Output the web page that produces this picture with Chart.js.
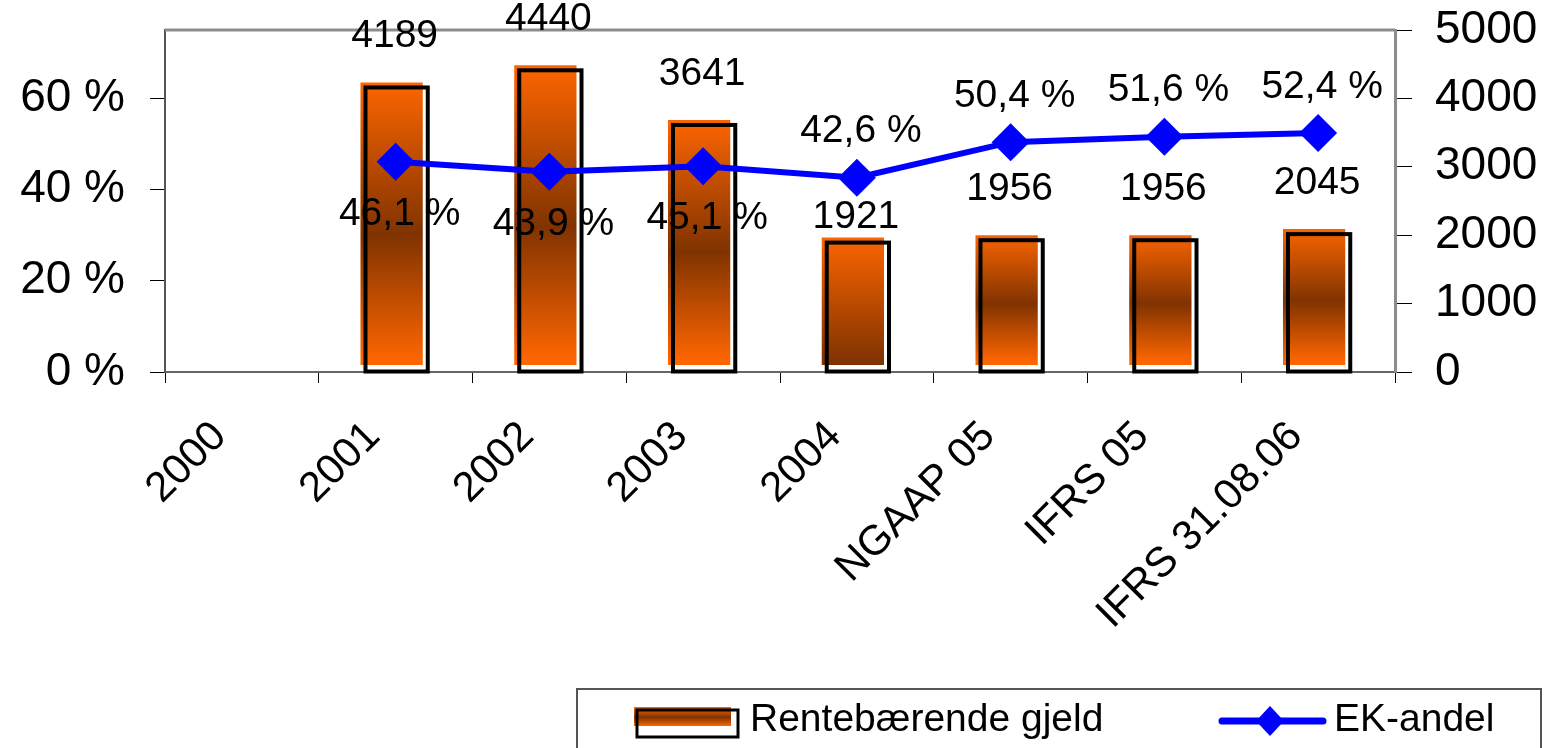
<!DOCTYPE html>
<html>
<head>
<meta charset="utf-8">
<script src="https://cdn.jsdelivr.net/npm/chart.js@4.4.1/dist/chart.umd.min.js"></script>
<style>
  html, body { margin: 0; padding: 0; background: #fff; }
  #wrap { width: 1545px; height: 748px; position: relative; }
</style>
</head>
<body>
<div id="wrap"><canvas id="chart"></canvas></div>
<script>
// data
const categories = ['2000', '2001', '2002', '2003', '2004', 'NGAAP 05', 'IFRS 05', 'IFRS 31.08.06'];
const gjeld = [null, 4189, 4440, 3641, 1921, 1956, 1956, 2045];
const ekAndel = [null, 46.1, 43.9, 45.1, 42.6, 50.4, 51.6, 52.4];
const leftTicks = [0, 20, 40, 60];
const rightTicks = [0, 1000, 2000, 3000, 4000, 5000];

// label placement (style only)
const barLabelGap = [0, 49, 49, 49, 23, 49, 49, 49];
const lineLabelSide = ['', 'below', 'below', 'below', 'above', 'above', 'above', 'above'];

const ORANGE = 'rgb(255,102,0)';
const BROWN = 'rgb(128,51,0)';
const FONT = '"Liberation Sans", Arial, sans-serif';

function barGradient(ctx, top, bottom, index) {
    const g = ctx.createLinearGradient(0, top, 0, bottom);
    if (index === 4) {
        g.addColorStop(0, ORANGE);
        g.addColorStop(1, BROWN);
    } else {
        g.addColorStop(0, ORANGE);
        g.addColorStop(0.55, BROWN);
        g.addColorStop(1, ORANGE);
    }
    return g;
}

const barLook = {
    id: 'barLook',
    beforeDatasetDraw(chart, args) {
        if (args.meta.type !== 'bar') return;
        const ctx = chart.ctx, a = chart.chartArea;
        ctx.save();
        ctx.beginPath();
        ctx.rect(a.left - 10, a.top - 10, a.right - a.left + 20, a.bottom - a.top + 3);
        ctx.clip();
        ctx.translate(-4, -3);
    },
    afterDatasetDraw(chart, args) {
        if (args.meta.type !== 'bar') return;
        const ctx = chart.ctx;
        ctx.restore();
        ctx.save();
        ctx.strokeStyle = '#000';
        ctx.lineWidth = 4;
        args.meta.data.forEach((el, i) => {
            if (gjeld[i] == null) return;
            const l = el.x - el.width / 2 + 1, r = el.x + el.width / 2 + 1;
            ctx.strokeRect(l, el.y + 2, r - l, el.base - el.y - 2);
        });
        ctx.restore();
    }
};

const valueLabels = {
    id: 'valueLabels',
    afterDatasetsDraw(chart) {
        const ctx = chart.ctx;
        ctx.save();
        ctx.fillStyle = '#000';
        ctx.font = '39px ' + FONT;
        ctx.textAlign = 'center';
        ctx.textBaseline = 'middle';
        chart.getDatasetMeta(0).data.forEach((el, i) => {
            if (gjeld[i] == null) return;
            ctx.fillText(String(gjeld[i]), el.x - 1, el.y - barLabelGap[i]);
        });
        chart.getDatasetMeta(1).data.forEach((el, i) => {
            if (ekAndel[i] == null) return;
            const txt = ekAndel[i].toFixed(1).replace('.', ',') + ' %';
            const dy = lineLabelSide[i] === 'below' ? 52 : -46;
            ctx.fillText(txt, el.x + 4, el.y + dy);
        });
        ctx.restore();
    }
};

const frame = {
    id: 'frame',
    beforeDatasetsDraw(chart) {
        const ctx = chart.ctx, a = chart.chartArea;
        ctx.save();
        ctx.strokeStyle = '#8c8c8c';
        ctx.lineWidth = 3;
        ctx.beginPath();
        ctx.moveTo(a.left, a.top);
        ctx.lineTo(a.right, a.top);
        ctx.stroke();
        ctx.restore();
    }
};

const boxLegend = {
    id: 'boxLegend',
    afterDraw(chart) {
        const ctx = chart.ctx;
        const ds = chart.data.datasets;
        ctx.save();
        ctx.strokeStyle = '#555';
        ctx.lineWidth = 2;
        ctx.strokeRect(577, 689, 964, 80);

        // bar symbol
        ctx.fillStyle = barGradient(ctx, 707, 726, 0);
        ctx.fillRect(634, 707, 97, 19);
        ctx.strokeStyle = '#000';
        ctx.lineWidth = 3;
        ctx.strokeRect(637, 710, 101, 27);

        // line symbol
        ctx.strokeStyle = '#0000ff';
        ctx.lineWidth = 7;
        ctx.lineCap = 'round';
        ctx.beginPath();
        ctx.moveTo(1222, 721);
        ctx.lineTo(1323, 721);
        ctx.stroke();
        ctx.fillStyle = '#0000ff';
        ctx.beginPath();
        ctx.moveTo(1270, 706);
        ctx.lineTo(1284, 721);
        ctx.lineTo(1270, 736);
        ctx.lineTo(1256, 721);
        ctx.closePath();
        ctx.fill();

        ctx.fillStyle = '#000';
        ctx.font = '39px ' + FONT;
        ctx.textAlign = 'left';
        ctx.textBaseline = 'middle';
        ctx.fillText(ds[0].label, 750, 720);
        ctx.fillText(ds[1].label, 1334, 720);
        ctx.restore();
    }
};

function fixY(width) {
    return function(scale) {
        scale.width = width;
        scale.paddingTop = 0;
        scale.paddingBottom = 0;
    };
}

new Chart(document.getElementById('chart'), {
    type: 'bar',
    data: {
        labels: categories,
        datasets: [{
            type: 'bar',
            label: 'Rentebærende gjeld',
            data: gjeld,
            yAxisID: 'yR',
            order: 2,
            backgroundColor: function(c) {
                const chart = c.chart;
                if (!chart.chartArea || c.parsed == null || c.parsed.y == null) return ORANGE;
                const top = chart.scales.yR.getPixelForValue(c.parsed.y);
                return barGradient(chart.ctx, top - 3, chart.chartArea.bottom - 7, c.dataIndex);
            },
            borderWidth: 0,
            barPercentage: 1,
            categoryPercentage: 0.405
        }, {
            type: 'line',
            label: 'EK-andel',
            data: ekAndel,
            yAxisID: 'yL',
            order: 1,
            borderColor: '#0000ff',
            backgroundColor: '#0000ff',
            borderWidth: 6,
            pointStyle: 'rectRot',
            pointRadius: 19,
            pointHoverRadius: 19,
            pointBorderWidth: 0,
            tension: 0,
            fill: false
        }]
    },
    options: {
        responsive: true,
        maintainAspectRatio: false,
        animation: false,
        events: [],
        layout: { padding: { top: 30, left: 0, right: 0, bottom: 0 } },
        plugins: {
            legend: { display: false },
            tooltip: { enabled: false }
        },
        scales: {
            x: {
                offset: true,
                grid: { offset: true, drawOnChartArea: false, color: '#000', tickLength: 11, lineWidth: 1 },
                border: { color: '#666', width: 2 },
                ticks: {
                    color: '#000',
                    font: { family: FONT, size: 42 },
                    minRotation: 45,
                    maxRotation: 45,
                    autoSkip: false,
                    padding: 29,
                    labelOffset: -22
                },
                afterFit(scale) { scale.height = 376; }
            },
            yL: {
                position: 'left',
                min: 0,
                max: 75,
                grid: { drawOnChartArea: false, color: '#000', tickLength: 15 },
                border: { color: '#555', width: 2 },
                ticks: {
                    color: '#000',
                    font: { family: FONT, size: 46 },
                    padding: 25,
                    callback: v => v + ' %'
                },
                afterBuildTicks(scale) { scale.ticks = leftTicks.map(v => ({ value: v })); },
                afterFit: fixY(165)
            },
            yR: {
                position: 'right',
                min: 0,
                max: 5000,
                grid: { drawOnChartArea: false, color: '#000', tickLength: 17 },
                border: { color: '#8c8c8c', width: 3 },
                ticks: {
                    color: '#000',
                    font: { family: FONT, size: 46 },
                    padding: 23,
                    callback: v => String(v)
                },
                afterBuildTicks(scale) { scale.ticks = rightTicks.map(v => ({ value: v })); },
                afterFit: fixY(150)
            }
        }
    },
    plugins: [barLook, valueLabels, frame, boxLegend]
});
</script>
</body>
</html>
